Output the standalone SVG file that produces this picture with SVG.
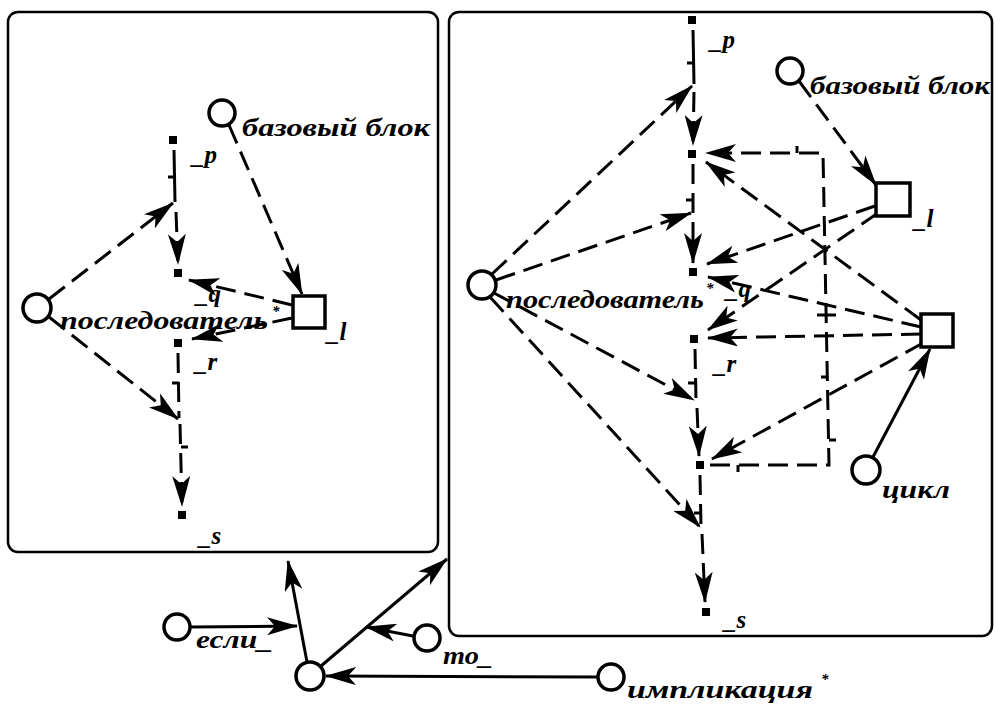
<svg xmlns="http://www.w3.org/2000/svg" width="996" height="707" viewBox="0 0 996 707">
<style>
.pl{fill:none;stroke:#000;stroke-width:2.5}
.d{fill:none;stroke:#000;stroke-width:3;stroke-dasharray:20 9}
.s{fill:none;stroke:#000;stroke-width:3}
.tk{fill:none;stroke:#000;stroke-width:3}
.a{marker-end:url(#ah)}
.c{fill:#fff;stroke:#000;stroke-width:3.5}
.q{fill:#fff;stroke:#000;stroke-width:3.5}
.n{fill:#000}
.t{font-family:"Liberation Serif","DejaVu Serif",serif;font-style:italic;font-weight:bold;font-size:25px;fill:#000}
.st{font-size:15px}
</style>
<defs>
<marker id="ah" markerUnits="userSpaceOnUse" markerWidth="32" markerHeight="18" refX="30" refY="9" orient="auto">
<path d="M0,0 L31,9 L0,18 L8,9 Z" fill="#000"/>
</marker>
</defs>
<rect width="996" height="707" fill="#fff"/>
<rect class="pl" x="8" y="12" width="430" height="540" rx="10"/>
<rect class="pl" x="449" y="12" width="543" height="624" rx="10"/>

<g id="connectors">
<!-- left panel -->
<line class="s" x1="174" y1="150" x2="175" y2="202"/>
<line class="tk" x1="175" y1="177" x2="168" y2="177"/>
<line class="d a" x1="176" y1="212" x2="178" y2="264"/>
<line class="d a" x1="49" y1="299" x2="173" y2="203"/>
<line class="d" x1="178" y1="353" x2="179" y2="418"/>
<line class="tk" x1="179" y1="383" x2="172" y2="383"/>
<line class="d a" x1="49" y1="317" x2="178" y2="419"/>
<line class="d a" x1="180" y1="424" x2="182" y2="506"/>
<line class="tk" x1="181" y1="447" x2="188" y2="447"/>
<line class="d a" x1="229" y1="125" x2="302" y2="294"/>
<line class="d a" x1="292" y1="305" x2="189" y2="280"/>
<line class="d a" x1="292" y1="318" x2="192" y2="339"/>
<!-- right panel -->
<line class="s" x1="693" y1="30" x2="694" y2="84"/>
<line class="tk" x1="694" y1="63" x2="687" y2="63"/>
<line class="d a" x1="694" y1="92" x2="693" y2="145"/>
<line class="d a" x1="492" y1="274" x2="692" y2="86"/>
<line class="d" x1="693" y1="164" x2="693" y2="213"/>
<line class="tk" x1="693" y1="200" x2="686" y2="200"/>
<line class="d a" x1="693" y1="222" x2="693" y2="263"/>
<line class="d a" x1="496" y1="280" x2="691" y2="213"/>
<line class="d" x1="695" y1="349" x2="696" y2="400"/>
<line class="tk" x1="695" y1="383" x2="688" y2="383"/>
<line class="d a" x1="494" y1="293" x2="694" y2="400"/>
<line class="d a" x1="697" y1="408" x2="699" y2="456"/>
<line class="d" x1="700" y1="475" x2="701" y2="527"/>
<line class="tk" x1="701" y1="513" x2="694" y2="513"/>
<line class="d a" x1="490" y1="297" x2="700" y2="527"/>
<line class="d a" x1="702" y1="534" x2="705" y2="602"/>
<line class="d a" x1="799" y1="81" x2="876" y2="185"/>
<line class="d a" x1="875" y1="206" x2="707" y2="264"/>
<line class="d a" x1="878" y1="213" x2="708" y2="330"/>
<line class="d a" x1="921" y1="320" x2="706" y2="162"/>
<line class="d a" x1="921" y1="327" x2="708" y2="277"/>
<line class="d a" x1="921" y1="334" x2="708" y2="338"/>
<line class="d a" x1="923" y1="343" x2="712" y2="459"/>
<line class="s a" x1="873" y1="457" x2="930" y2="349"/>
<polyline class="d a" points="710,465 829,465 823,153 706,153"/>
<line class="tk" x1="738" y1="465" x2="738" y2="472"/>
<line class="tk" x1="829" y1="440" x2="836" y2="440"/>
<line class="tk" x1="828" y1="377" x2="821" y2="377"/>
<line class="tk" x1="817" y1="315" x2="836" y2="315"/>
<line class="tk" x1="797" y1="153" x2="797" y2="146"/>
<!-- bottom -->
<line class="s a" x1="190" y1="627" x2="297" y2="626"/>
<line class="s a" x1="307" y1="662" x2="288" y2="561"/>
<line class="s a" x1="321" y1="666" x2="447" y2="559"/>
<line class="s a" x1="413" y1="636" x2="366" y2="627"/>
<line class="s a" x1="598" y1="677" x2="326" y2="676"/>
</g>

<g id="left-p"><rect class="n" x="169" y="136" width="8" height="8"/><text class="t" x="192" y="163">_p</text></g>
<g id="left-q"><rect class="n" x="174" y="269" width="8" height="8"/><text class="t" x="196" y="302">_q</text></g>
<g id="left-r"><rect class="n" x="174" y="339" width="8" height="8"/><text class="t" x="195" y="370">_r</text></g>
<g id="left-s"><rect class="n" x="178" y="511" width="8" height="8"/><text class="t" x="199" y="544">_s</text></g>
<g id="left-base"><circle class="c" cx="222" cy="113" r="13"/><text class="t" x="242" y="136" textLength="188" lengthAdjust="spacingAndGlyphs">базовый блок</text></g>
<g id="left-seq"><circle class="c" cx="37" cy="308" r="14"/><text class="t" x="60" y="329"><tspan textLength="208" lengthAdjust="spacingAndGlyphs">последователь</tspan><tspan class="st" dx="4" dy="-13">*</tspan></text></g>
<g id="left-l"><rect class="q" x="293" y="296" width="32" height="32"/><text class="t" x="327" y="340">_l</text></g>

<g id="right-p"><rect class="n" x="688" y="16" width="8" height="8"/><text class="t" x="710" y="48">_p</text></g>
<g id="right-n1"><rect class="n" x="688" y="150" width="8" height="8"/></g>
<g id="right-q"><rect class="n" x="689" y="268" width="8" height="8"/><text class="t" x="726" y="297">_q</text></g>
<g id="right-r"><rect class="n" x="690" y="335" width="8" height="8"/><text class="t" x="714" y="372">_r</text></g>
<g id="right-n4"><rect class="n" x="696" y="461" width="8" height="8"/></g>
<g id="right-s"><rect class="n" x="702" y="608" width="8" height="8"/><text class="t" x="724" y="628">_s</text></g>
<g id="right-seq"><circle class="c" cx="482" cy="285" r="14"/><text class="t" x="506" y="308"><tspan textLength="198" lengthAdjust="spacingAndGlyphs">последователь</tspan><tspan class="st" dx="2" dy="-15">*</tspan></text></g>
<g id="right-base"><circle class="c" cx="790" cy="71" r="13"/><text class="t" x="810" y="94" textLength="180" lengthAdjust="spacingAndGlyphs">базовый блок</text></g>
<g id="right-l"><rect class="q" x="876" y="183" width="34" height="33"/><text class="t" x="914" y="227">_l</text></g>
<g id="right-big"><rect class="q" x="921" y="314" width="32" height="33"/></g>
<g id="right-cycle"><circle class="c" cx="866" cy="470" r="14"/><text class="t" x="882" y="498" textLength="68" lengthAdjust="spacingAndGlyphs">цикл</text></g>

<g id="if"><circle class="c" cx="177" cy="627" r="13"/><text class="t" x="196" y="648" textLength="77" lengthAdjust="spacingAndGlyphs">если_</text></g>
<g id="center"><circle class="c" cx="310" cy="676" r="14"/></g>
<g id="then"><circle class="c" cx="427" cy="638" r="13"/><text class="t" x="443" y="664" textLength="50" lengthAdjust="spacingAndGlyphs">то_</text></g>
<g id="impl"><circle class="c" cx="611" cy="677" r="13"/><text class="t" x="627" y="698"><tspan textLength="186" lengthAdjust="spacingAndGlyphs">импликация</tspan><tspan class="st" dx="8" dy="-14">*</tspan></text></g>
</svg>
